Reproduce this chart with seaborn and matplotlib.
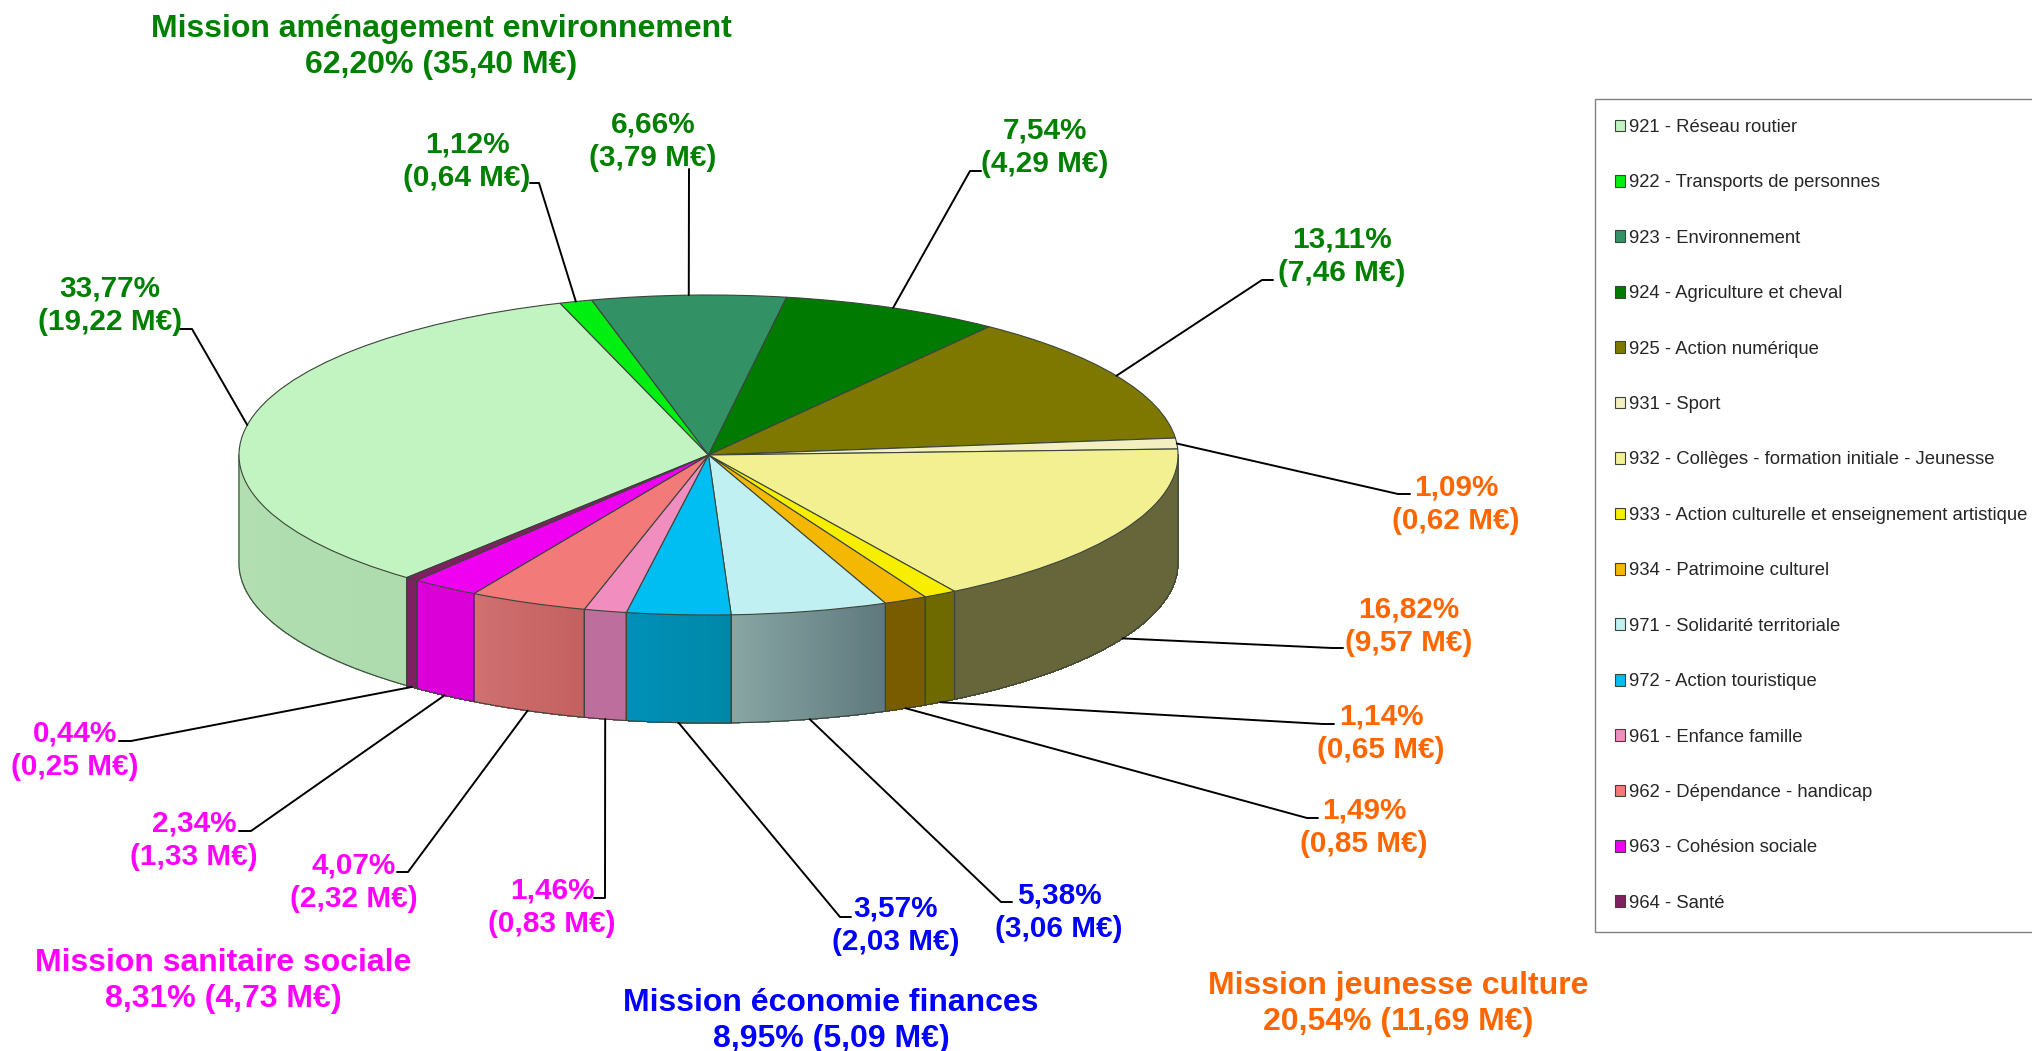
import numpy as np
import matplotlib
matplotlib.use("Agg")
import matplotlib.pyplot as plt
import seaborn as sns

# budget lines, clockwise from the lower left of the pie
codes = ["921 - Réseau routier", "922 - Transports de personnes", "923 - Environnement",
         "924 - Agriculture et cheval", "925 - Action numérique", "931 - Sport",
         "932 - Collèges - formation initiale - Jeunesse",
         "933 - Action culturelle et enseignement artistique", "934 - Patrimoine culturel",
         "971 - Solidarité territoriale", "972 - Action touristique", "961 - Enfance famille",
         "962 - Dépendance - handicap", "963 - Cohésion sociale", "964 - Santé"]
percent = [33.77, 1.12, 6.66, 7.54, 13.11, 1.09, 16.82, 1.14, 1.49, 5.38, 3.57, 1.46, 4.07, 2.34, 0.44]
millions = [19.22, 0.64, 3.79, 4.29, 7.46, 0.62, 9.57, 0.65, 0.85, 3.06, 2.03, 0.83, 2.32, 1.33, 0.25]

top_colors = ["#C2F4C2", "#00EE10", "#339166", "#007A00", "#7F7800", "#F4EFC0", "#F3F092", "#F7EE00",
              "#F5B800", "#C0F0F2", "#00BDF2", "#F28DC0", "#F27A78", "#F000F0", "#7F2060"]
# side wall colours, left end and right end of each slice
side_left = ["#B3DFB3", "#00C010", "#2A7A55", "#006000", "#66663A", "#C0BC90", "#66663A", "#6E6A00",
             "#7A5C00", "#88A6A4", "#0090B8", "#BD6E9C", "#D07070", "#DC00D8", "#7F2060"]
side_right = ["#AEDCAE", "#00C010", "#2A7A55", "#006000", "#66663A", "#C0BC90", "#66663A", "#6E6A00",
              "#7A5C00", "#5F797D", "#0088A8", "#BD6E9C", "#C46060", "#DC00D8", "#7F2060"]

label_colors = ["#008000"] * 5 + ["#FF6600"] * 4 + ["#0000FF"] * 2 + ["#FF00FF"] * 4

groups = [("Mission aménagement environnement", "62,20% (35,40 M€)", "#008000"),
          ("Mission jeunesse culture", "20,54% (11,69 M€)", "#FF6600"),
          ("Mission économie finances", "8,95% (5,09 M€)", "#0000FF"),
          ("Mission sanitaire sociale", "8,31% (4,73 M€)", "#FF00FF")]
group_x = [441, 1398, 831, 223]
group_y = [47, 1004, 1021, 981]

# label layout in pixels of the picture
text_x = [110, 467, 653, 1045, 1342, 1456, 1409, 1381, 1364, 1059, 896, 552, 354, 194, 75]
text_y = [305, 161, 141, 147, 256, 504, 626, 733, 827, 912, 925, 907, 882, 840, 750]
elbow_x = [192, 539, 689, 970, 1262, 1398, 1332, 1323, 1307, 1001, 840, 605, 408, 251, 131]
elbow_y = [329, 183, 169, 171, 280, 494, 648, 724, 818, 902, 917, 898, 872, 831, 741]
end_x = [180, 530, 689, 981, 1273, 1410, 1343, 1334, 1318, 1012, 851, 594, 397, 239, 119]

WIDTH, HEIGHT = 2033, 1051
CX, CY, RX, RY = 708.5, 455, 469.5, 160
DEPTH = 108 / RY
START = 230

sns.set_theme(style="white")
plt.rcParams["font.family"] = ["Liberation Sans", "DejaVu Sans"]

fig = plt.figure(figsize=(WIDTH / 100, HEIGHT / 100), dpi=100)
ax = fig.add_axes([0, 0, 1, 1])

edge = "#3A453A"
wedges, _ = ax.pie(percent, colors=top_colors, startangle=START, counterclock=False,
                   wedgeprops={"edgecolor": edge, "linewidth": 0.8})
ax.set_aspect("auto")
ax.set_xlim(-CX / RX, (WIDTH - CX) / RX)
ax.set_ylim(-(HEIGHT - CY) / RY, CY / RY)

# side wall of the pie, only the front half can be seen
stops = START - np.cumsum([0] + percent) * 3.6
for i in range(len(percent)):
    a1 = (stops[i] + 720) % 360
    a0 = a1 - percent[i] * 3.6
    lo, hi = max(a0, 180), min(a1, 360)
    if a1 <= 180 and a1 - a0 > 0:
        lo, hi = max(a0 + 360, 180), min(a1 + 360, 360)
    if lo >= hi:
        continue
    t = np.radians(np.linspace(lo, hi, 40))
    x, y = np.cos(t), np.sin(t)
    # x runs from left to right along the wall as the angle grows
    strips = sns.blend_palette([side_left[i], side_right[i]], len(t) - 1)
    for j in range(len(t) - 1):
        ax.fill([x[j], x[j + 1], x[j + 1], x[j]],
                [y[j], y[j + 1], y[j + 1] - DEPTH, y[j] - DEPTH],
                color=strips[j], linewidth=0.5, antialiased=False, zorder=0)
    ax.plot(np.r_[x[0], x[0], x, x[-1], x[-1]],
            np.r_[y[0], y[0] - DEPTH, y - DEPTH, y[-1] - DEPTH, y[-1]],
            color=edge, linewidth=0.8, zorder=0.5)

ax.legend(wedges, codes, loc="upper left", bbox_to_anchor=(1595 / WIDTH, 1 - 99 / HEIGHT),
          borderaxespad=0, fontsize=13.3, labelspacing=2.08, handlelength=0.55, handleheight=0.6,
          handletextpad=0.2, borderpad=1.08, frameon=True, fancybox=False, edgecolor="#808080",
          facecolor="white", framealpha=1)

# overlay in picture pixels for the leader lines and the labels
over = fig.add_axes([0, 0, 1, 1], facecolor="none")
over.set_xlim(0, WIDTH)
over.set_ylim(HEIGHT, 0)
over.axis("off")

mids = np.radians(START - (np.cumsum(percent) - np.array(percent) / 2) * 3.6)
for i in range(len(percent)):
    ax_x = CX + RX * np.cos(mids[i])
    ax_y = CY - RY * np.sin(mids[i])
    if np.sin(mids[i]) < 0:
        ax_y += DEPTH * RY
    over.plot([ax_x, elbow_x[i], end_x[i]], [ax_y, elbow_y[i], elbow_y[i]], color="black", linewidth=1.4)
    pct = f"{percent[i]:.2f}".replace(".", ",") + "%"
    eur = "(" + f"{millions[i]:.2f}".replace(".", ",") + " M€)"
    over.text(text_x[i], text_y[i], pct + "\n" + eur, color=label_colors[i], fontsize=21.4,
              fontweight="bold", ha="center", va="center", linespacing=1.24)

for k in range(len(groups)):
    name, total, col = groups[k]
    over.text(group_x[k], group_y[k], name + "\n" + total, color=col, fontsize=23,
              fontweight="bold", ha="center", va="center", linespacing=1.25)

fig.savefig("out.png", dpi=100)
